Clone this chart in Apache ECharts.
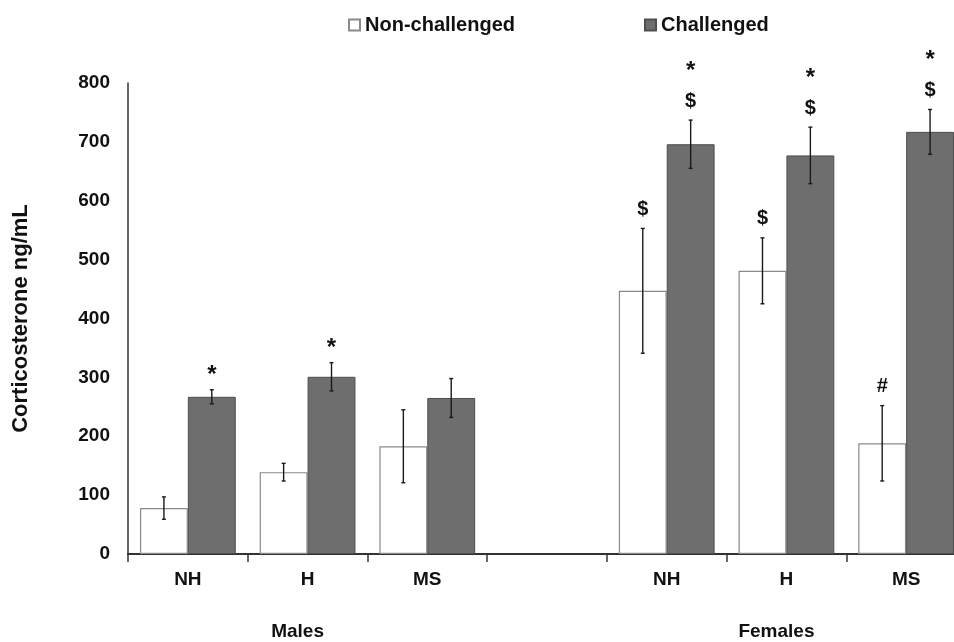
<!DOCTYPE html>
<html>
<head>
<meta charset="utf-8">
<script src="https://cdn.jsdelivr.net/npm/echarts@6/dist/echarts.min.js"></script>
<style>html,body{margin:0;padding:0;background:#fff;overflow:hidden;width:954px;height:642px;}#c{width:966px;height:642px;}</style>
</head>
<body>
<div id="c"></div>
<script>
const categories = ['NH', 'H', 'MS', '', 'NH', 'H', 'MS'];
const groupLabels = ['', 'Males', '', '', '', 'Females', ''];
const seriesNames = ['Non-challenged', 'Challenged'];
const nonChallenged = [78, 139, 183, null, 447, 481, 188];
const nonChallengedErr = [19, 15, 62, null, 106, 56, 64];
const challenged = [267, 301, 265, null, 696, 677, 717];
const challengedErr = [12, 24, 33, null, 41, 48, 38];
const nonChallengedMarks = [[], [], [], [], ['$'], ['$'], ['#']];
const challengedMarks = [['*'], ['*'], [], [], ['$', '*'], ['$', '*'], ['$', '*']];
const yTicks = {min: 0, max: 800, interval: 100};

const FONT = "'Liberation Sans', Arial, sans-serif";

function errSeries(name, means, errs, marks, side) {
  const data = [];
  means.forEach((m, i) => { if (m != null) data.push([i, m, errs[i]]); });
  return {
    type: 'custom',
    name: name + ' error',
    z: 10,
    silent: true,
    data: data,
    encode: {x: 0, y: 1},
    renderItem: function (params, api) {
      const i = api.value(0), m = api.value(1), e = api.value(2);
      const bw = api.size([1, 0])[0];
      const off = side * 0.2 * bw;
      const top = api.coord([i, m + e]);
      const bot = api.coord([i, m - e]);
      const x = top[0] + off;
      const st = {stroke: '#1a1a1a', lineWidth: 1.4};
      const children = [
        {type: 'line', shape: {x1: x, y1: top[1], x2: x, y2: bot[1]}, style: st},
        {type: 'line', shape: {x1: x - 2, y1: top[1], x2: x + 2, y2: top[1]}, style: st},
        {type: 'line', shape: {x1: x - 2, y1: bot[1], x2: x + 2, y2: bot[1]}, style: st}
      ];
      let y = top[1] - 19;
      (marks[i] || []).forEach((t, k) => {
        if (k > 0) y -= 35;
        children.push({
          type: 'text',
          style: {
            text: t, x: x, y: t === '*' ? y + 5 : y,
            align: 'center', verticalAlign: 'middle',
            font: (t === '*' ? 'bold 24px ' : 'bold 20px ') + FONT,
            fill: '#111'
          }
        });
      });
      return {type: 'group', children: children};
    }
  };
}

const chart = echarts.init(document.getElementById('c'), null, {renderer: 'canvas'});
chart.setOption({
  animation: false,
  backgroundColor: '#fff',
  grid: {left: 128, top: 83, bottom: 88, right: 0, containLabel: false},
  legend: {
    data: seriesNames,
    left: 343, top: 10,
    itemWidth: 11, itemHeight: 11,
    itemGap: 129,
    icon: 'rect',
    textStyle: {fontFamily: FONT, fontWeight: 'bold', fontSize: 20, color: '#111'}
  },
  xAxis: [{
    type: 'category',
    data: categories,
    axisLine: {lineStyle: {color: '#333', width: 2}},
    axisTick: {show: true, length: 8, lineStyle: {color: '#333', width: 1.5}},
    axisLabel: {fontFamily: FONT, fontWeight: 'bold', fontSize: 19, color: '#111', margin: 16}
  }, {
    type: 'category',
    position: 'bottom',
    offset: 60,
    data: groupLabels,
    axisLine: {show: false},
    axisTick: {show: false},
    axisLabel: {
      margin: 8,
      interval: 0,
      formatter: function (v) { return v ? '{g|' + v + '}' : ''; },
      rich: {g: {fontFamily: FONT, fontWeight: 'bold', fontSize: 19, color: '#111', padding: [0, 20, 0, 0]}}
    }
  }],
  yAxis: {
    type: 'value',
    min: yTicks.min, max: yTicks.max, interval: yTicks.interval,
    name: 'Corticosterone ng/mL',
    nameLocation: 'middle',
    nameGap: 96,
    nameTextStyle: {fontFamily: FONT, fontWeight: 'bold', fontSize: 22, color: '#111'},
    axisLine: {show: true, lineStyle: {color: '#333', width: 1.5}},
    axisTick: {show: false},
    splitLine: {show: false},
    axisLabel: {fontFamily: FONT, fontWeight: 'bold', fontSize: 19, color: '#111', margin: 18}
  },
  series: [{
    name: seriesNames[0],
    type: 'bar',
    data: nonChallenged,
    barGap: '0%',
    barCategoryGap: '20%',
    itemStyle: {color: '#ffffff', borderColor: '#8a8a8a', borderWidth: 1.2}
  }, {
    name: seriesNames[1],
    type: 'bar',
    data: challenged,
    barGap: '0%',
    barCategoryGap: '20%',
    itemStyle: {color: '#6e6e6e', borderColor: '#4e4e4e', borderWidth: 1}
  },
  errSeries(seriesNames[0], nonChallenged, nonChallengedErr, nonChallengedMarks, -1),
  errSeries(seriesNames[1], challenged, challengedErr, challengedMarks, 1)
  ]
});
</script>
</body>
</html>
